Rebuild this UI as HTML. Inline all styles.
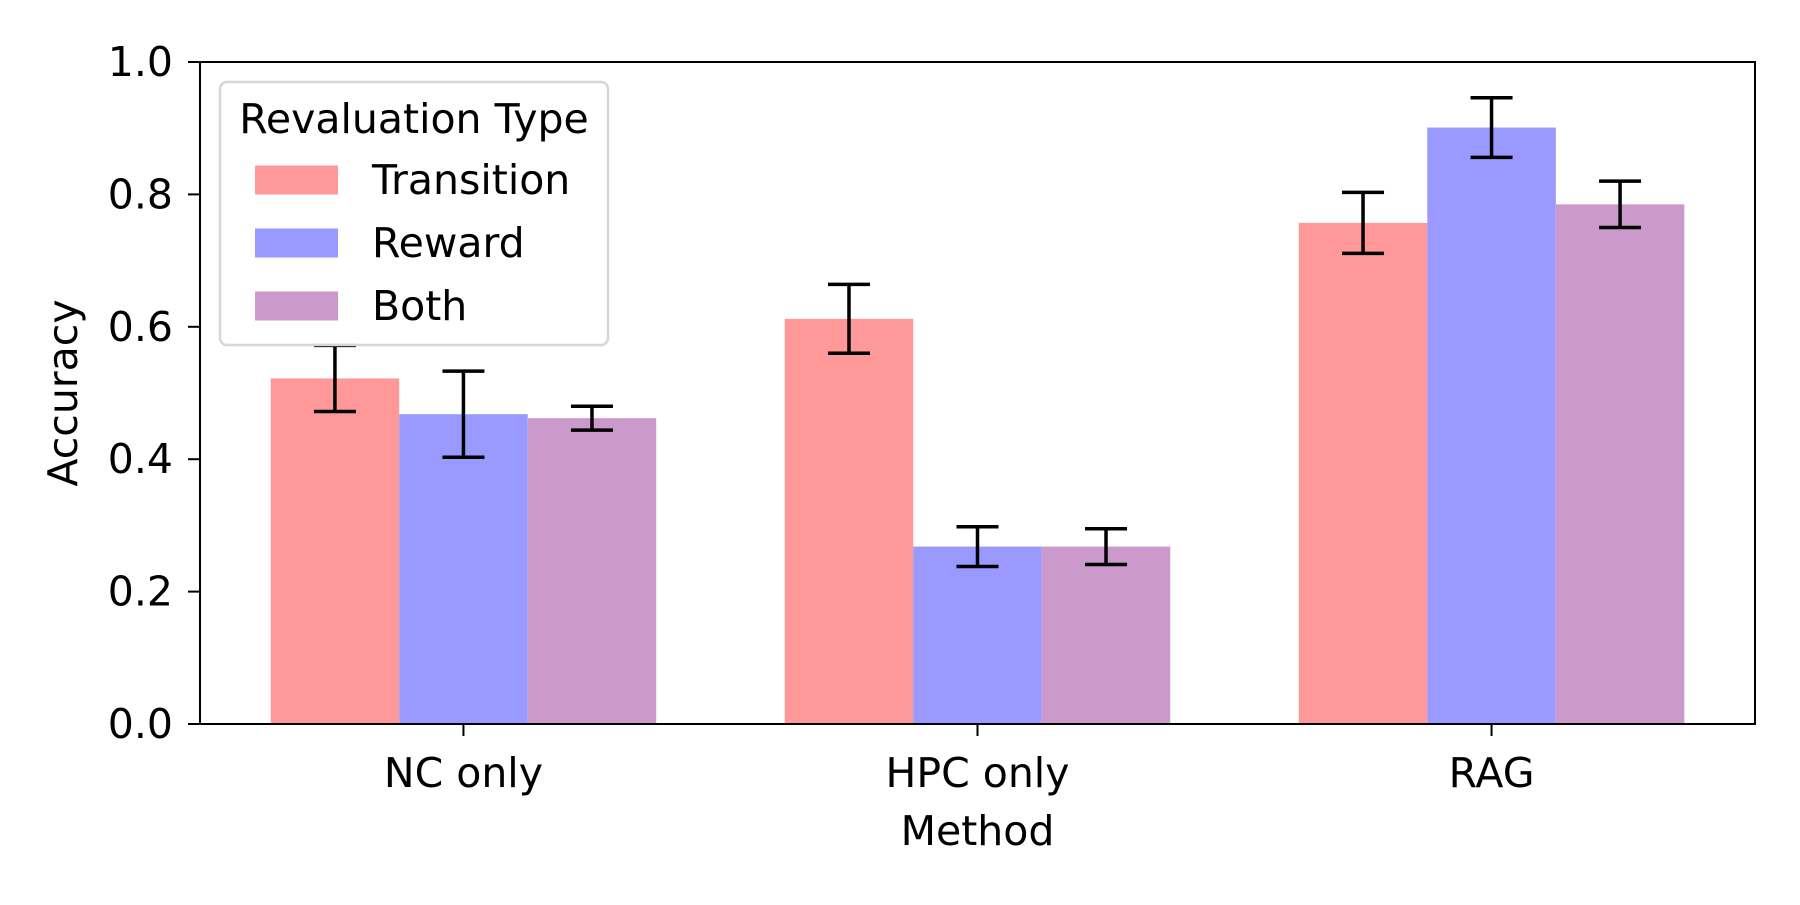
<!DOCTYPE html>
<html><head><meta charset="utf-8"><style>
html,body{margin:0;padding:0;background:#fff}
svg text{font-family:"DejaVu Sans","Liberation Sans",sans-serif;fill:#000}
</style></head><body>
<svg id="chart" width="1800" height="900" xmlns="http://www.w3.org/2000/svg"></svg>
<script>
const categories = ["NC only","HPC only","RAG"];
const seriesNames = ["Transition","Reward","Both"];
const transitionVals = [0.522,0.612,0.757];
const rewardVals = [0.468,0.268,0.901];
const bothVals = [0.462,0.268,0.785];
const transitionErr = [0.050,0.052,0.046];
const rewardErr = [0.065,0.030,0.045];
const bothErr = [0.018,0.027,0.035];
const yTicks = [0.0,0.2,0.4,0.6,0.8,1.0];

const svg = document.getElementById('chart');
const NS = 'http://www.w3.org/2000/svg';
const L=200, R=1755, T=62, B=724;
const FS=41;
const xmin=-0.5125, xmax=2.5125;
const xs = v => L + (v - xmin)/(xmax - xmin)*(R-L);
const ys = v => B - v*(B-T);
const colors = ["#ff9999","#9999ff","#cc99cc"];
const vals=[transitionVals,rewardVals,bothVals];
const errs=[transitionErr,rewardErr,bothErr];
function mk(tag, attrs, parent){const e=document.createElementNS(NS,tag);for(const k in attrs)e.setAttribute(k,attrs[k]);(parent||svg).appendChild(e);return e;}

vals.forEach((arr,s)=>{
  arr.forEach((v,i)=>{
    const cx = i + (s-1)*0.25;
    const r = mk('rect',{x:xs(cx-0.125),y:ys(v),width:xs(cx+0.125)-xs(cx-0.125),height:ys(0)-ys(v),fill:colors[s]});
    
    
  });
});
vals.forEach((arr,s)=>{
  arr.forEach((v,i)=>{
    const cx = xs(i + (s-1)*0.25), e=errs[s][i];
    const g = mk('g',{stroke:'#000','stroke-width':3.5});
    
    
    mk('line',{x1:cx,x2:cx,y1:ys(v-e),y2:ys(v+e)},g);
    mk('line',{x1:cx-21,x2:cx+21,y1:ys(v-e),y2:ys(v-e)},g);
    mk('line',{x1:cx-21,x2:cx+21,y1:ys(v+e),y2:ys(v+e)},g);
  });
});
const fr = mk('rect',{x:L,y:T,width:R-L,height:B-T,fill:'none',stroke:'#000','stroke-width':2});


yTicks.forEach(t=>{
  mk('line',{x1:L-12,x2:L,y1:ys(t),y2:ys(t),stroke:'#000','stroke-width':2});
  const tx = mk('text',{x:L-27,y:ys(t)+14,'text-anchor':'end','font-size':FS});
  tx.textContent=t.toFixed(1);
  
  
});
categories.forEach((c,i)=>{
  mk('line',{x1:xs(i),x2:xs(i),y1:B,y2:B+12,stroke:'#000','stroke-width':2});
  const tx = mk('text',{x:xs(i),y:B+63,'text-anchor':'middle','font-size':FS});
  tx.textContent=c;
  
  
});
const xt = mk('text',{x:(L+R)/2,y:845,'text-anchor':'middle','font-size':FS});
xt.textContent='Method';


const yt = mk('text',{x:0,y:0,'text-anchor':'middle','font-size':FS,transform:`translate(77,${(T+B)/2}) rotate(-90)`});
yt.textContent='Accuracy';


const lg = mk('g',{});


mk('rect',{x:220,y:82,width:388,height:263,rx:7,fill:'#fff','fill-opacity':0.8,stroke:'#d6d6d6','stroke-width':2.5},lg);
const lt = mk('text',{x:414,y:133,'text-anchor':'middle','font-size':FS},lg);
lt.textContent='Revaluation Type';
seriesNames.forEach((n,s)=>{
  const cy = 180 + s*63;
  const ent = mk('g',{},lg);
  
  
  mk('rect',{x:255,y:cy-14.5,width:83,height:29,fill:colors[s]},ent);
  const t = mk('text',{x:372,y:cy+14,'font-size':FS},ent);
  t.textContent=n;
});
</script>
</body></html>
